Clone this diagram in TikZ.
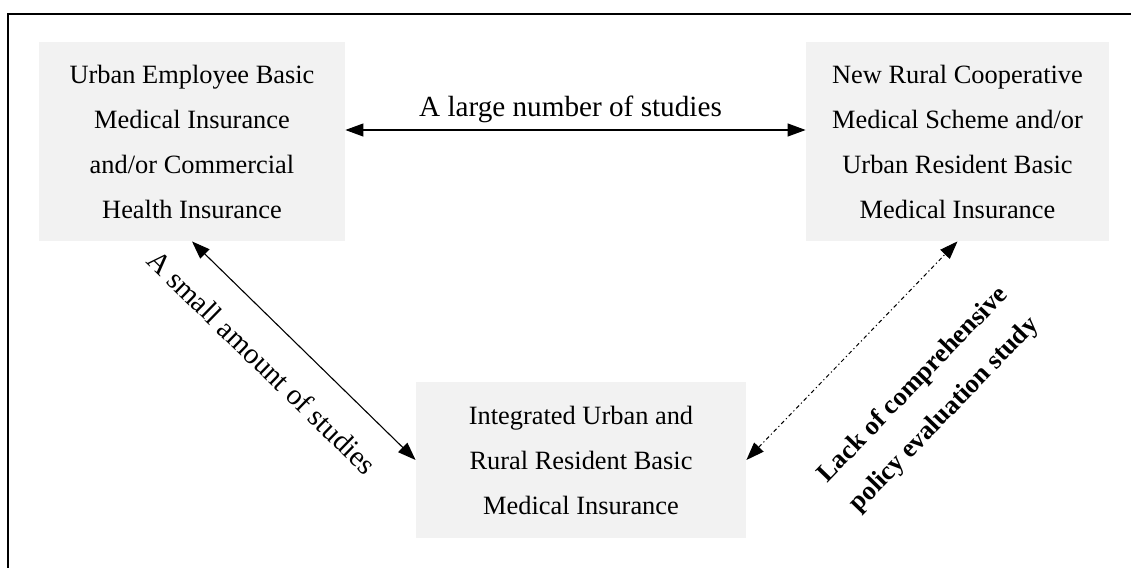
\documentclass[tikz,border=0pt]{standalone}
\usepackage{fontspec}
\setmainfont{Liberation Serif}
\usetikzlibrary{arrows.meta}
\tikzset{%
  tipA/.tip={Triangle[length=9pt,width=6.5pt]},
  insbox/.style={fill=gray!10, align=center, inner sep=0pt,
    font=\fontsize{13.2}{22.5}\selectfont},
  link/.style={line width=0.55pt, tipA-tipA},
  linktext/.style={font=\fontsize{14.6}{18}\selectfont}
}
\begin{document}
\begin{tikzpicture}[x=0.5pt,y=-0.5pt]
\useasboundingbox (0,0) rectangle (1131,568);
\draw[line width=0.7pt] (8,568) -- (8,14) -- (1131,14);
\node[insbox, minimum width=153pt, minimum height=99.5pt] (urban) at (192,141.5)
  {Urban Employee Basic\\Medical Insurance\\and/or Commercial\\Health Insurance};
\node[insbox, minimum width=151.5pt, minimum height=99.5pt] (rural) at (957.5,141.5)
  {New Rural Cooperative\\Medical Scheme and/or\\Urban Resident Basic\\Medical Insurance};
\node[insbox, minimum width=165pt, minimum height=78pt] (integ) at (581,460)
  {Integrated Urban and\\Rural Resident Basic\\Medical Insurance};
\draw[link] ([yshift=5.75pt]urban.east) -- ([yshift=5.75pt]rural.west)
  node[linktext, midway, above, inner sep=3.3pt, xshift=-2.5pt] (many) {A large number of studies};
\draw[link] (urban.south) -- (integ.west);
\node[linktext, rotate=-44.2] (few) at (262,362) {A small amount of studies};
\draw[link, line width=0.5pt, dash pattern=on 2pt off 1.4pt on 0.6pt off 1.4pt] (integ.east) -- (rural.south);
\node[align=center, rotate=46, font=\bfseries\fontsize{13.2}{21.5}\selectfont] (lack) at (929,400)
  {Lack of comprehensive\\policy evaluation study};
\end{tikzpicture}
\end{document}
